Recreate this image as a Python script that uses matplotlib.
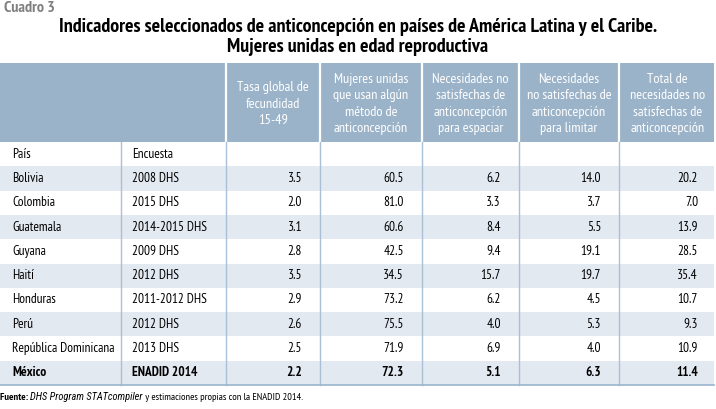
import matplotlib
matplotlib.use("Agg")
import matplotlib.pyplot as plt
from matplotlib.patches import Rectangle

# ---------------- data ----------------
paises = ["Bolivia", "Colombia", "Guatemala", "Guyana", "Haití", "Honduras",
          "Perú", "República Dominicana", "México"]
encuestas = ["2008 DHS", "2015 DHS", "2014-2015 DHS", "2009 DHS", "2012 DHS",
             "2011-2012 DHS", "2012 DHS", "2013 DHS", "ENADID 2014"]
tasa_fecundidad = [3.5, 2.0, 3.1, 2.8, 3.5, 2.9, 2.6, 2.5, 2.2]
usan_metodo = [60.5, 81.0, 60.6, 42.5, 34.5, 73.2, 75.5, 71.9, 72.3]
nec_espaciar = [6.2, 3.3, 8.4, 9.4, 15.7, 6.2, 4.0, 6.9, 5.1]
nec_limitar = [14.0, 3.7, 5.5, 19.1, 19.7, 4.5, 5.3, 4.0, 6.3]
nec_total = [20.2, 7.0, 13.9, 28.5, 35.4, 10.7, 9.3, 10.9, 11.4]

headers = ["Tasa global de\nfecundidad\n15-49",
           "Mujeres unidas\nque usan algún\nmétodo de\nanticoncepción",
           "Necesidades no\nsatisfechas de\nanticoncepción\npara espaciar",
           "Necesidades\nno satisfechas de\nanticoncepción\npara limitar",
           "Total de\nnecesidades no\nsatisfechas de\nanticoncepción"]

cuadro = "Cuadro 3"
titulo = ("Indicadores seleccionados de anticoncepción en países de América Latina y el Caribe.\n"
          "Mujeres unidas en edad reproductiva")

# ---------------- layout ----------------
W, H = 716, 409
FONT = ["PT Sans Narrow", "Liberation Sans", "DejaVu Sans"]
ITALIC = ["Roboto Condensed", "Liberation Sans", "DejaVu Sans"]
plt.rcParams["font.family"] = FONT

fig = plt.figure(figsize=(W / 100, H / 100), dpi=100)
ax = fig.add_axes([0, 0, 1, 1])
ax.set_xlim(0, W)
ax.set_ylim(H, 0)
ax.axis("off")

header_top, header_bot = 63, 142
row_h = 24.3
col_edges = [0, 121, 226, 320, 422, 519, 619, 716]
header_col = "#9bb3c9"
shade_col = "#e3e9f1"
line_col = "#a9c0d6"

# header block
ax.add_patch(Rectangle((0, header_top), W - 2, header_bot - header_top,
                       facecolor=header_col, edgecolor="none"))
for x in col_edges[2:-1]:
    ax.plot([x, x], [header_top, header_bot], color="white", lw=1.6)

for i, htxt in enumerate(headers):
    xc = (col_edges[i + 2] + col_edges[i + 3]) / 2
    ax.text(xc, (header_top + header_bot) / 2 + 1.5, htxt, ha="center", va="center",
            color="white", fontsize=10.3, linespacing=1.36)

# body rows: first "País/Encuesta" row then data rows
n_rows = len(paises) + 1
for r in range(n_rows):
    y0 = header_bot + r * row_h
    if r % 2 == 1:
        ax.add_patch(Rectangle((0, y0), W - 2, row_h, facecolor=shade_col,
                               edgecolor="none"))

body_bot = header_bot + n_rows * row_h
for x in col_edges[1:-1]:
    ax.plot([x, x], [header_bot, body_bot], color=line_col, lw=1.0)
ax.plot([0, W - 2], [body_bot, body_bot], color="#9ab4cc", lw=1.2)

fs = 9.6
ax.text(12, header_bot + row_h / 2, "País", ha="left", va="center", fontsize=fs)
ax.text(132, header_bot + row_h / 2, "Encuesta", ha="left", va="center", fontsize=fs)

cols = [tasa_fecundidad, usan_metodo, nec_espaciar, nec_limitar, nec_total]
for i, (p, e) in enumerate(zip(paises, encuestas)):
    yc = header_bot + (i + 1.5) * row_h
    bold = (p == "México")
    w = "bold" if bold else "normal"
    ax.text(12, yc, p, ha="left", va="center", fontsize=fs, fontweight=w)
    ax.text(132, yc, e, ha="left", va="center", fontsize=fs, fontweight=w)
    for j, c in enumerate(cols):
        xr = col_edges[j + 3] - 18
        ax.text(xr, yc, f"{c[i]:.1f}", ha="right", va="center", fontsize=fs,
                fontweight=w)

# titles
ax.text(4, 8, cuadro, ha="left", va="center", fontsize=11.5, fontweight="bold",
        color="#808080")
ax.text(358, 37, titulo, ha="center", va="center", fontsize=14.4,
        fontweight="bold", color="black", linespacing=1.15)

# footnote with mixed styles
fig.canvas.draw()
renderer = fig.canvas.get_renderer()
x = 0
yf = 397
parts = [("Fuente: ", "bold", "normal", FONT),
         ("DHS Program STATcompiler", "normal", "italic", ITALIC),
         (" y estimaciones propias con la ENADID 2014.", "normal", "normal", FONT)]
inv = ax.transData.inverted()
for txt, wt, st, fam in parts:
    t = ax.text(x, yf, txt, ha="left", va="center", fontsize=7.5,
                fontweight=wt, fontstyle=st, family=fam)
    bb = t.get_window_extent(renderer=renderer)
    x0d = inv.transform((bb.x0, bb.y0))[0]
    x1d = inv.transform((bb.x1, bb.y0))[0]
    x += (x1d - x0d)

fig.savefig("out.png", dpi=100)
